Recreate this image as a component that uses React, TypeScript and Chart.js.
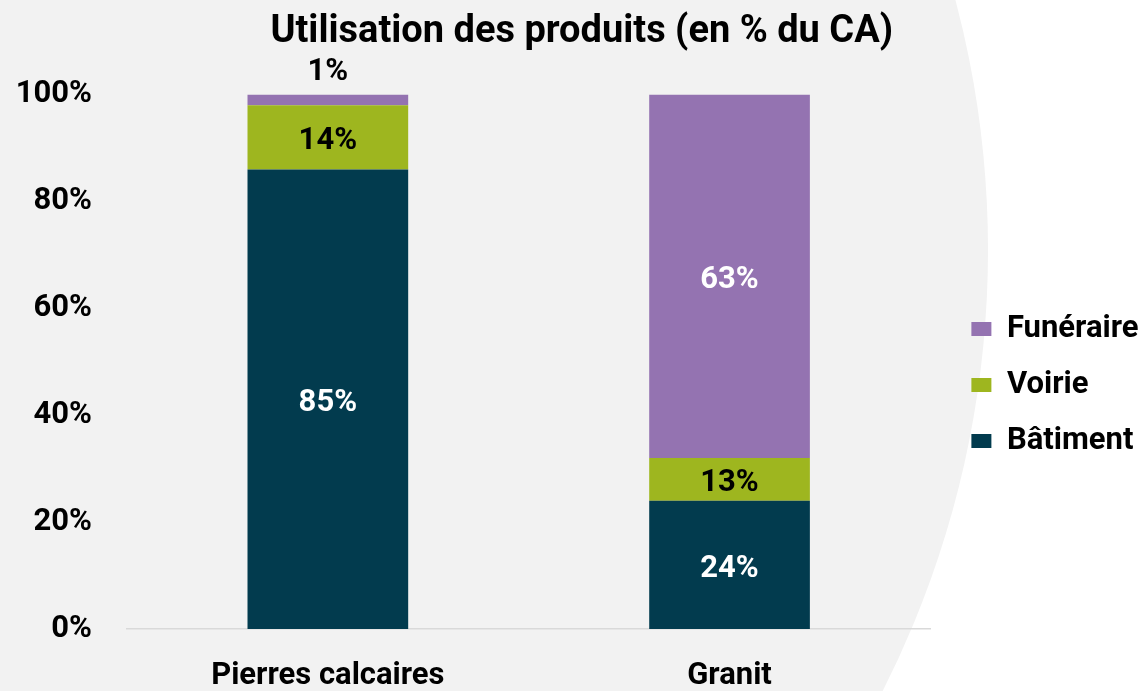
import { useEffect, useRef } from "react";
import { Chart, registerables } from "chart.js";
Chart.register(...registerables);

const categories = ["Pierres calcaires", "Granit"];
const seriesNames = ["Bâtiment", "Voirie", "Funéraire"];
const batiment = [86, 24];
const voirie = [12, 8];
const funeraire = [2, 68];
const batimentLabels = ["85%", "24%"];
const voirieLabels = ["14%", "13%"];
const funeraireLabels = ["1%", "63%"];
const seriesColors = ["#023b4e", "#9eb61f", "#9473b1"];
const labelColors = ["#ffffff", "#000000", "#ffffff"];
const titleText = "Utilisation des produits (en % du CA)";
const FONT = "Roboto";

const backgroundPlugin = {
  id: "bgShape",
  beforeDraw(chart: any) {
    const ctx = chart.ctx;
    ctx.save();
    ctx.fillStyle = "#ffffff";
    ctx.fillRect(0, 0, chart.width, chart.height);
    ctx.beginPath();
    ctx.arc(12, 250, 976, 0, Math.PI * 2);
    ctx.fillStyle = "#f2f2f2";
    ctx.fill();
    ctx.restore();
  },
};

const allLabels = [batimentLabels, voirieLabels, funeraireLabels];

const dataLabelPlugin = {
  id: "dataLabels",
  afterDatasetsDraw(chart: any) {
    const ctx = chart.ctx;
    ctx.save();
    ctx.font = `bold 31px ${FONT}`;
    ctx.textAlign = "center";
    ctx.textBaseline = "middle";
    chart.data.datasets.forEach((ds: any, i: number) => {
      const meta = chart.getDatasetMeta(i);
      meta.data.forEach((el: any, j: number) => {
        const { x, y, base } = el.getProps(["x", "y", "base"], true);
        const h = Math.abs(base - y);
        const text = allLabels[i][j];
        if (h < 30) {
          ctx.fillStyle = "#000000";
          ctx.fillText(text, x, Math.min(y, base) - 22);
        } else {
          ctx.fillStyle = labelColors[i];
          ctx.fillText(text, x, (y + base) / 2 + 4);
        }
      });
    });
    ctx.restore();
  },
};

export default function App() {
  const ref = useRef<HTMLCanvasElement | null>(null);
  useEffect(() => {
    if (!ref.current) return;
    const chart = new Chart(ref.current, {
      type: "bar",
      data: {
        labels: categories,
        datasets: [
          { label: seriesNames[0], data: batiment, backgroundColor: seriesColors[0] },
          { label: seriesNames[1], data: voirie, backgroundColor: seriesColors[1] },
          { label: seriesNames[2], data: funeraire, backgroundColor: seriesColors[2] },
        ],
      },
      options: {
        responsive: false,
        animation: false,
        layout: { autoPadding: false, padding: { left: 15, right: -4.5, top: 0, bottom: 0 } },
        datasets: { bar: { categoryPercentage: 1, barPercentage: 0.4 } } as any,
        plugins: {
          tooltip: { enabled: false },
          title: {
            display: true,
            text: titleText,
            color: "#000000",
            font: { family: FONT, size: 38, weight: "bold" },
            padding: { top: 10, bottom: 39 },
          },
          legend: {
            position: "right",
            reverse: true,
            maxWidth: 320,
            title: { display: true, text: " ", font: { size: 10 }, padding: { top: 34, bottom: 33 } },
            labels: {
              color: "#000000",
              boxWidth: 20,
              boxHeight: 14,
              padding: 25,
              font: { family: FONT, size: 31, weight: "bold" },
            },
          },
        },
        scales: {
          x: {
            stacked: true,
            grid: { display: false, drawTicks: false },
            border: { display: true, color: "#d9d9d9", width: 1.5 },
            afterFit: (s: any) => {
              s.height = 62;
            },
            ticks: {
              color: "#000000",
              padding: 29,
              font: { family: FONT, size: 31, weight: "bold" },
            },
          },
          y: {
            stacked: true,
            min: 0,
            max: 100,
            grid: { display: false, drawTicks: false },
            border: { display: false },
            afterFit: (s: any) => {
              s.width = 112;
            },
            ticks: {
              stepSize: 20,
              color: "#000000",
              padding: 35,
              font: { family: FONT, size: 31, weight: "bold" },
              callback: (v: any) => v + "%",
            },
          },
          gap: {
            position: "right",
            display: true,
            grid: { display: false, drawTicks: false },
            border: { display: false },
            ticks: { display: false },
            afterFit: (s: any) => {
              s.width = 16;
            },
          },
        },
      },
      plugins: [backgroundPlugin, dataLabelPlugin],
    });
    return () => chart.destroy();
  }, []);
  return (
    <div style={{ position: "fixed", left: 0, top: 0, width: 1144, height: 691 }}>
      <canvas ref={ref} width={1144} height={691} style={{ display: "block" }} />
    </div>
  );
}
